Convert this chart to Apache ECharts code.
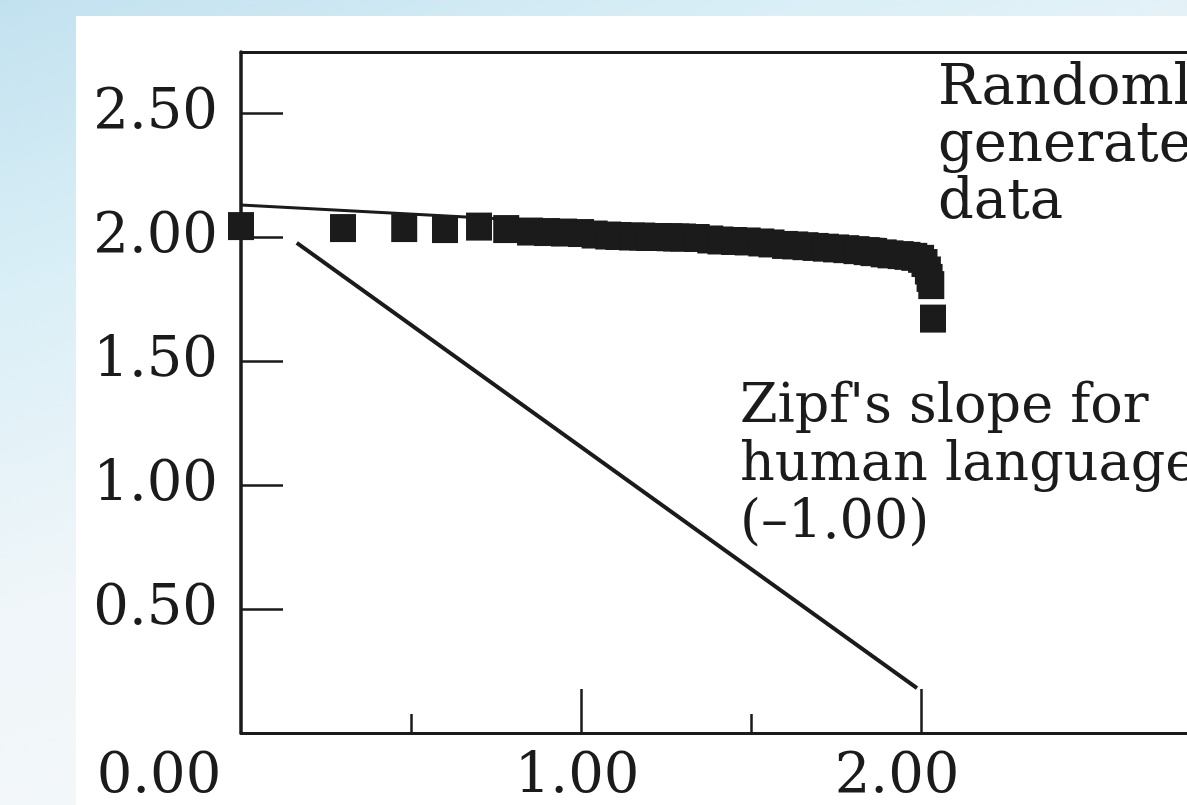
<!DOCTYPE html>
<html>
<head>
<meta charset="utf-8">
<script src="https://cdn.jsdelivr.net/npm/echarts@6/dist/echarts.min.js"></script>
<style>
  html, body {
    margin: 0;
    padding: 0;
    width: 1187px;
    height: 805px;
    overflow: hidden;
    background: linear-gradient(160deg, #c2e1ef 0%, #d8eef6 22%, #f0f6f9 50%, #f7f9fa 100%);
  }
  #panel {
    position: absolute;
    left: 76px;
    top: 16px;
    right: 0;
    bottom: 0;
    background: #ffffff;
  }
  #chart {
    position: absolute;
    left: 0;
    top: 0;
    width: 1187px;
    height: 805px;
  }
</style>
</head>
<body>
<div id="panel"></div>
<div id="chart"></div>
<script>
// log10(rank) vs log10(frequency)
var randomX = [0, 0.30, 0.48, 0.60, 0.70, 0.78, 0.85, 0.90, 0.95, 1.00,
  1.04, 1.08, 1.11, 1.15, 1.18, 1.20, 1.23, 1.26, 1.28, 1.30,
  1.34, 1.38, 1.41, 1.45, 1.49, 1.53, 1.56, 1.60, 1.63, 1.66,
  1.69, 1.72, 1.75, 1.78, 1.81, 1.84, 1.86, 1.89, 1.91, 1.94,
  1.96, 1.98, 2.00, 2.01, 2.02, 2.025, 2.03, 2.035];
var randomY = [2.044, 2.036, 2.036, 2.032, 2.042, 2.032, 2.022, 2.02, 2.018, 2.016,
  2.01, 2.006, 2.004, 2.002, 2.002, 2.0, 2.0, 1.999, 1.998, 1.998,
  1.996, 1.99, 1.986, 1.984, 1.982, 1.978, 1.974, 1.968, 1.966, 1.963,
  1.96, 1.957, 1.954, 1.951, 1.947, 1.943, 1.939, 1.934, 1.93, 1.927,
  1.924, 1.92, 1.912, 1.895, 1.865, 1.835, 1.806, 1.671];

// fitted line over the random data
var fitX = [0, 1.9];
var fitY = [2.129, 1.99];

// Zipf's slope for human language
var zipfX = [0.164, 1.988];
var zipfY = [1.976, 0.181];

var xMajorTicks = [1, 2];
var xMinorTicks = [0.5, 1.5];
var xLabels = [0, 1, 2];
var yTicks = [0.5, 1, 1.5, 2, 2.5];

var ink = "#1b1b1b";
var serif = "DejaVu Serif";

function pairs(xs, ys) {
  return xs.map(function (x, i) { return [x, ys[i]]; });
}

var chart = echarts.init(document.getElementById("chart"), null, { renderer: "canvas" });

chart.setOption({
  animation: false,
  backgroundColor: "transparent",
  grid: {
    left: 241,
    right: 0,
    top: 52,
    bottom: 72,
  },
  xAxis: [
    {
      type: "value",
      min: 0,
      max: 2.782,
      position: "bottom",
      splitLine: { show: false },
      axisLine: { show: true, lineStyle: { color: ink, width: 3 } },
      axisTick: {
        show: true,
        inside: true,
        length: 44,
        customValues: xMajorTicks,
        lineStyle: { color: ink, width: 2.5 },
      },
      axisLabel: {
        show: true,
        customValues: xLabels,
        margin: 16,
        color: ink,
        fontFamily: serif,
        fontSize: 56,
        formatter: function (v) {
          if (v === 0) return "{z|0.00}";
          if (v === 1) return "{a|1.00}";
          return "{b|2.00}";
        },
        rich: {
          z: { fontFamily: serif, fontSize: 56, color: ink, padding: [0, 164, 0, 0] },
          a: { fontFamily: serif, fontSize: 56, color: ink, padding: [0, 8, 0, 0] },
          b: { fontFamily: serif, fontSize: 56, color: ink, padding: [0, 48, 0, 0] },
        },
      },
    },
    {
      // short ticks at the halves
      type: "value",
      min: 0,
      max: 2.782,
      position: "bottom",
      splitLine: { show: false },
      axisLine: { show: false },
      axisLabel: { show: false },
      axisTick: {
        show: true,
        inside: true,
        length: 19,
        customValues: xMinorTicks,
        lineStyle: { color: ink, width: 2.5 },
      },
    },
    {
      // top frame line
      type: "value",
      min: 0,
      max: 2.782,
      position: "top",
      splitLine: { show: false },
      axisLine: { show: true, lineStyle: { color: ink, width: 3 } },
      axisTick: { show: false },
      axisLabel: { show: false },
    },
  ],
  yAxis: {
    type: "value",
    min: 0,
    max: 2.746,
    splitLine: { show: false },
    axisLine: { show: true, lineStyle: { color: ink, width: 3.5 } },
    axisTick: {
      show: true,
      inside: true,
      length: 42,
      customValues: yTicks,
      lineStyle: { color: ink, width: 2.5 },
    },
    axisLabel: {
      show: true,
      customValues: yTicks,
      margin: 23,
      color: ink,
      fontFamily: serif,
      fontSize: 56,
      formatter: function (v) {
        return v.toFixed(2);
      },
    },
  },
  series: [
    {
      name: "Randomly generated data",
      type: "scatter",
      xAxisIndex: 0,
      symbol: "rect",
      symbolSize: [26, 28],
      itemStyle: { color: ink, opacity: 1 },
      data: pairs(randomX, randomY),
      z: 3,
    },
    {
      name: "fit",
      type: "line",
      xAxisIndex: 0,
      symbol: "none",
      lineStyle: { color: ink, width: 3 },
      data: pairs(fitX, fitY),
      z: 4,
    },
    {
      name: "Zipf",
      type: "line",
      xAxisIndex: 0,
      symbol: "none",
      lineStyle: { color: ink, width: 4 },
      data: pairs(zipfX, zipfY),
      z: 4,
    },
  ],
  graphic: [
    {
      type: "text",
      left: 938,
      top: 61,
      style: {
        text: "Randomly\ngenerated\ndata",
        fill: ink,
        font: "56px " + serif,
        lineHeight: 57,
      },
    },
    {
      type: "text",
      left: 740,
      top: 379,
      style: {
        text: "Zipf's slope for\nhuman language\n(\u20131.00)",
        fill: ink,
        font: "54px " + serif,
        lineHeight: 58,
      },
    },
  ],
});

window.onresize = function () {
  chart.resize();
};
</script>
</body>
</html>
